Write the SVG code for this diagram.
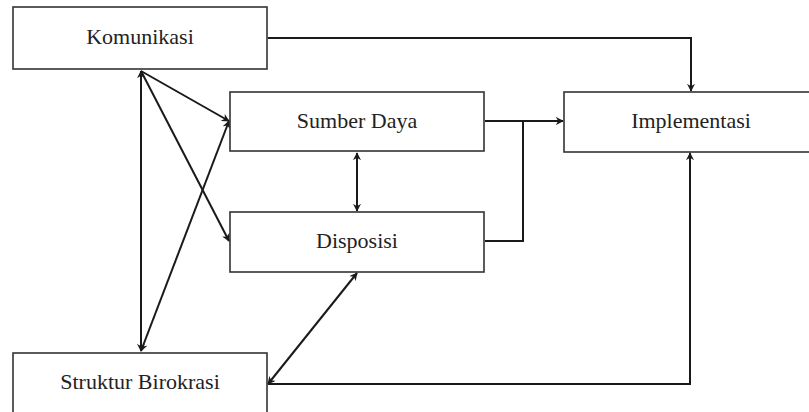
<svg xmlns="http://www.w3.org/2000/svg" width="809" height="412" viewBox="0 0 809 412">
<style>
.box{fill:#fff;stroke:#333;stroke-width:1.6}
.lbl{font-family:"Liberation Serif","Times New Roman",serif;font-size:22px;fill:#222;text-anchor:middle}
.c{fill:none;stroke:#1a1a1a;stroke-width:2}
</style>
<defs>
<marker id="ah" viewBox="0 0 10 10" refX="9" refY="5" markerWidth="8" markerHeight="8" markerUnits="userSpaceOnUse" orient="auto-start-reverse">
<path d="M0,0 L10,5 L0,10 L3,5 Z" fill="#1a1a1a"/>
</marker>
</defs>
<rect width="809" height="412" fill="#fff"/>
<g id="connectors">
<polyline class="c" points="268,38 691,38 691,91" marker-end="url(#ah)"/>
<line class="c" x1="141" y1="71" x2="141" y2="351" marker-start="url(#ah)" marker-end="url(#ah)"/>
<line class="c" x1="141" y1="71" x2="229" y2="121" marker-end="url(#ah)"/>
<line class="c" x1="141" y1="71" x2="229" y2="241" marker-end="url(#ah)"/>
<line class="c" x1="141" y1="351" x2="229" y2="121" marker-start="url(#ah)" marker-end="url(#ah)"/>
<line class="c" x1="357" y1="153" x2="357" y2="211" marker-start="url(#ah)" marker-end="url(#ah)"/>
<polyline class="c" points="485,121 563,121" marker-end="url(#ah)"/>
<polyline class="c" points="485,241 523,241 523,121"/>
<line class="c" x1="357" y1="273" x2="268" y2="384" marker-start="url(#ah)" marker-end="url(#ah)"/>
<polyline class="c" points="268,384 690,384 690,153" marker-end="url(#ah)"/>
</g>
<g id="komunikasi"><rect class="box" x="13" y="7" width="254" height="62"/><text class="lbl" x="140" y="44">Komunikasi</text></g>
<g id="sumber-daya"><rect class="box" x="230" y="92" width="254" height="59"/><text class="lbl" x="357" y="128">Sumber Daya</text></g>
<g id="disposisi"><rect class="box" x="230" y="212" width="254" height="60"/><text class="lbl" x="357" y="248">Disposisi</text></g>
<g id="implementasi"><rect class="box" x="564" y="92" width="254" height="60"/><text class="lbl" x="691" y="128">Implementasi</text></g>
<g id="struktur-birokrasi"><rect class="box" x="13" y="353" width="254" height="80"/><text class="lbl" x="140" y="389">Struktur Birokrasi</text></g>
</svg>
